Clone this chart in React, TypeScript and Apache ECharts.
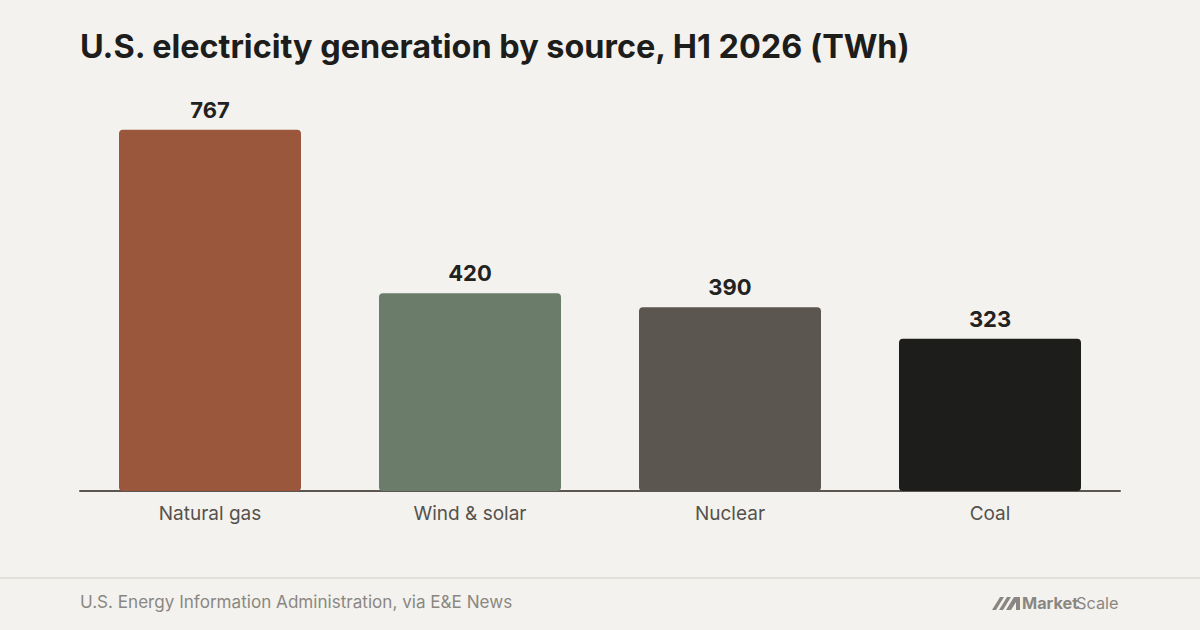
import React, { useEffect, useRef } from "react";
import * as echarts from "echarts";

const categories = ["Natural gas", "Wind & solar", "Nuclear", "Coal"];
const values = [767, 420, 390, 323];
const barColors = ["#9a573b", "#6b7c6a", "#5b5650", "#1d1d1b"];

const title = "U.S. electricity generation by source, H1 2026 (TWh)";
const source = "U.S. Energy Information Administration, via E&E News";

const FONT = "Inter, 'Noto Sans', sans-serif";

const logoPath =
  "M0 13 L8 0 L12 0 L4 13 Z M7 13 L15 0 L19 0 L11 13 Z M14 13 L22 0 L28 0 L28 13 L24 13 L24 5 L19 13 Z";

echarts.graphic.registerShape("msLogo", echarts.graphic.extendPath(logoPath, {}) as any);

export default function App() {
  const ref = useRef<HTMLDivElement>(null);
  useEffect(() => {
    if (!ref.current) return;
    const chart = echarts.init(ref.current, null, { renderer: "svg" });
    chart.setOption({
      animation: false,
      backgroundColor: "#f4f2ee",
      textStyle: { fontFamily: FONT },
      grid: { left: 80, right: 80, top: 67, bottom: 139, containLabel: false },
      xAxis: {
        type: "category",
        data: categories,
        axisLine: { show: true, lineStyle: { color: "#5b5650", width: 2 } },
        axisTick: { show: false },
        axisLabel: { color: "#55524d", fontSize: 19, margin: 13, fontFamily: FONT },
      },
      yAxis: {
        type: "value",
        min: 0,
        max: 900,
        show: false,
        splitLine: { show: false },
      },
      series: [
        {
          type: "bar",
          barCategoryGap: "30%",
          data: values.map((v, i) => ({ value: v, itemStyle: { color: barColors[i] } })),
          itemStyle: { borderRadius: [4, 4, 4, 4] },
          label: {
            show: true,
            position: "top",
            distance: 9,
            color: "#222220",
            fontSize: 22,
            fontWeight: "bold",
            fontFamily: FONT,
          },
        },
      ],
      graphic: [
        {
          type: "text",
          left: 80,
          top: 30,
          style: {
            text: title,
            fontSize: 32.4,
            fontWeight: "bold",
            fill: "#1d1d1b",
            fontFamily: FONT,
          },
        },
        {
          type: "rect",
          shape: { x: 0, y: 577, width: 1200, height: 2 },
          style: { fill: "#e4e1dc" },
        },
        {
          type: "text",
          left: 80,
          top: 593,
          style: {
            text: source,
            fontSize: 17.1,
            fill: "#8a8782",
            fontFamily: FONT,
          },
        },
        {
          type: "msLogo",
          x: 992,
          y: 597,
          style: { fill: "#8a8782" },
        },
        {
          type: "text",
          x: 1022,
          y: 595,
          style: {
            text: "Market",
            fontSize: 16.3,
            fontWeight: "bold",
            fill: "#8a8782",
            fontFamily: FONT,
          },
        },
        {
          type: "text",
          x: 1076,
          y: 595,
          style: {
            text: "Scale",
            fontSize: 16.3,
            fill: "#8a8782",
            fontFamily: FONT,
          },
        },
      ],
    });
    return () => chart.dispose();
  }, []);
  return <div ref={ref} style={{ width: 1200, height: 630, position: "absolute", left: 0, top: 0 }} />;
}
